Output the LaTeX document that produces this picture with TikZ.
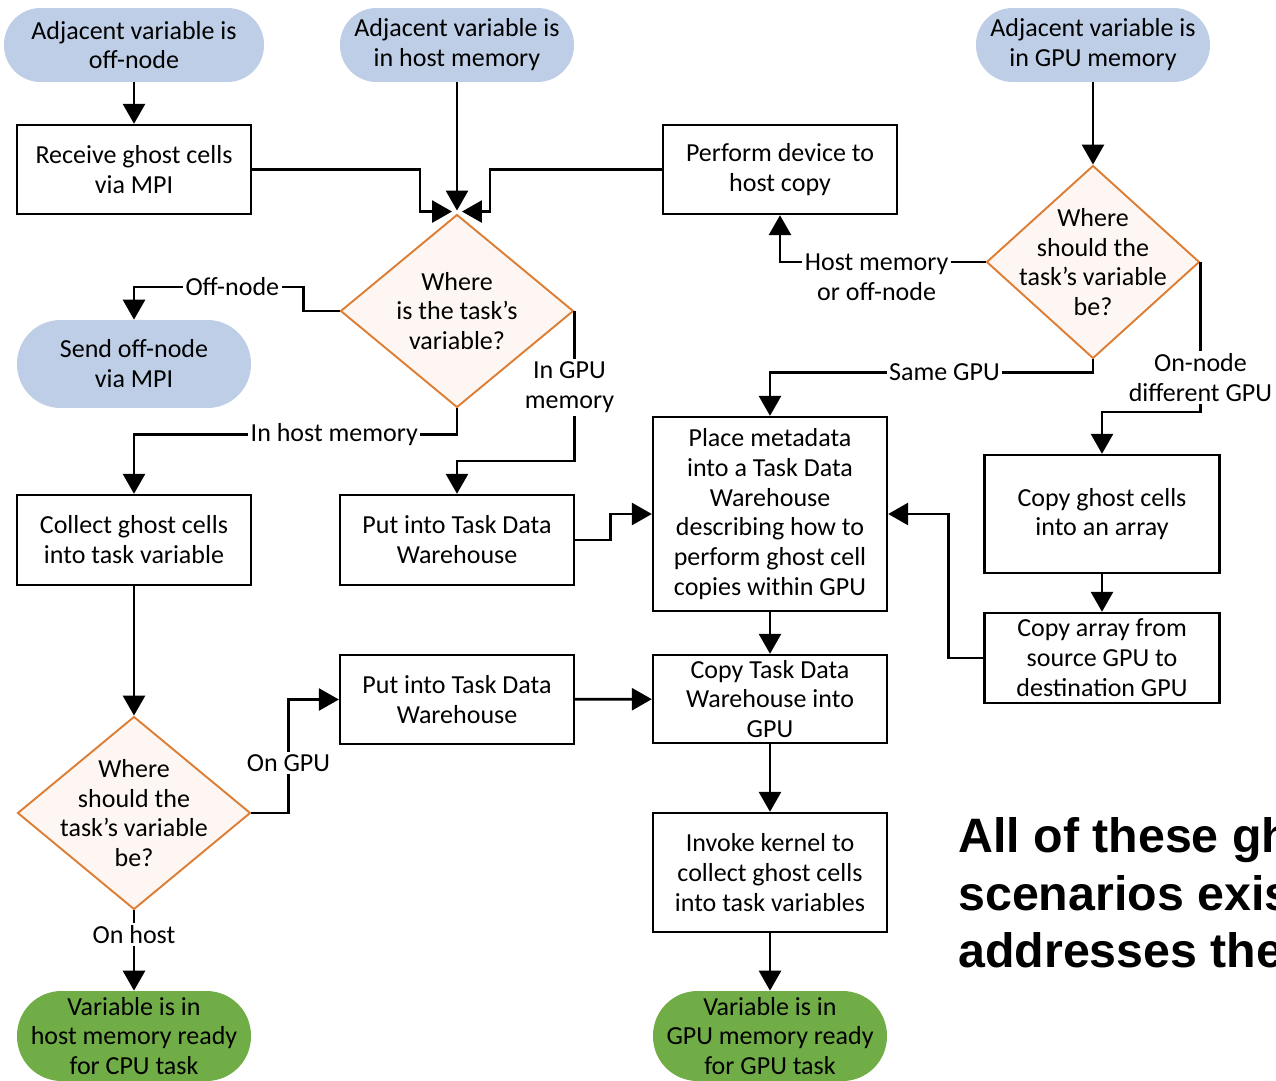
\documentclass[tikz,border=0pt]{standalone}
\usepackage{fontspec}
\setmainfont{Carlito}
\newfontfamily\notefont{Liberation Sans}
\usetikzlibrary{shapes.geometric,arrows.meta,calc}
\definecolor{termblue}{RGB}{189,206,230}
\definecolor{termgreen}{RGB}{112,173,71}
\definecolor{decorange}{RGB}{222,125,52}
\definecolor{decfill}{RGB}{253,246,242}

\begin{document}
\begin{tikzpicture}[x=0.02cm, y=-0.02cm, font=\fontsize{14.8}{17}\selectfont]
                \tikzstyle{terminal} = [rectangle, rounded corners=0.73cm, fill=termblue, minimum width=4.68cm, minimum height=1.48cm, inner sep=0pt, align=center]
                \tikzstyle{ready} = [rectangle, rounded corners=0.89cm, fill=termgreen, minimum width=4.68cm, minimum height=1.8cm, inner sep=0pt, align=center]
                \tikzstyle{process} = [rectangle, draw, line width=1.35pt, fill=white, minimum width=4.68cm, minimum height=1.78cm, inner sep=0pt, align=center]
                \tikzstyle{decision} = [diamond, draw=decorange, fill=decfill, line width=1.1pt, minimum width=4.66cm, minimum height=3.86cm, inner sep=0pt]
                \tikzstyle{lbl} = [fill=white, inner sep=1.5pt, align=center]
                \tikzstyle{arrow} = [line width=1.6pt, -{Triangle[length=0.4cm, width=0.44cm]}]

                \useasboundingbox (0,0) rectangle (1276,1081);

                % sources
                \node (offnode) [terminal, minimum width=5.2cm] at (134,45) {Adjacent variable is\\off-node};
                \node (hostmem) [terminal] at (457,45) {Adjacent variable is\\in host memory};
                \node (gpumem) [terminal] at (1093,45) {Adjacent variable is\\in GPU memory};

                \node (recv) [process] at (134,169.5) {Receive ghost cells\\via MPI};
                \node (dev2host) [process] at (780,169.5) {Perform device to\\host copy};
                \node (dec1) [decision, label={[align=center]center:Where\\is the task’s\\variable?}] at (457,311) {};
                \node (dec2) [decision, minimum width=4.26cm, label={[align=center]center:Where\\should the\\task’s variable\\be?}] at (1093,262) {};
                \node (sendoff) [terminal, rounded corners=0.87cm, minimum height=1.76cm] at (134,364) {Send off-node\\via MPI};

                \node (collect) [process, minimum height=1.8cm] at (134,540) {Collect ghost cells\\into task variable};
                \node (put1) [process, minimum height=1.8cm] at (457,540) {Put into Task Data\\Warehouse};
                \node (place) [process, minimum height=3.88cm] at (770,514) {Place metadata\\into a Task Data\\Warehouse\\describing how to\\perform ghost cell\\copies within GPU};
                \node (copyghost) [process, minimum width=4.7cm, minimum height=2.36cm] at (1102,514) {Copy ghost cells\\into an array};
                \node (copyarr) [process, minimum width=4.7cm, minimum height=1.8cm] at (1102,658) {Copy array from\\source GPU to\\destination GPU};

                \node (put2) [process] at (457,699.5) {Put into Task Data\\Warehouse};
                \node (copytdw) [process, minimum height=1.76cm] at (770,699) {Copy Task Data\\Warehouse into\\GPU};
                \node (dec3) [decision, label={[align=center]center:Where\\should the\\task’s variable\\be?}] at (134,813) {};
                \node (invoke) [process, minimum height=2.38cm] at (770,872.5) {Invoke kernel to\\collect ghost cells\\into task variables};

                % sinks
                \node (readycpu) [ready] at (134,1036) {Variable is in\\host memory ready\\for CPU task};
                \node (readygpu) [ready] at (770,1036) {Variable is in\\GPU memory ready\\for GPU task};

                \begin{scope}
                \clip (0,0) rectangle (1276,1081);
                \node (note) [anchor=north west, inner sep=0pt, align=left, font=\notefont\bfseries\fontsize{27.5}{32.9}\selectfont] at (958,817) {All of these gh\\scenarios exis\\addresses the};
                \end{scope}

                \draw [arrow] (offnode) -- (recv);
                \draw [arrow] (hostmem) -- ($(dec1.north)+(0,-3)$);
                \draw [arrow] (recv.east) -| ($(dec1.north)+(-37,-2)$) -- ($(dec1.north)+(-5,-2)$);
                \draw [arrow] (dev2host.west) -| ($(dec1.north)+(33,-2)$) -- ($(dec1.north)+(5,-2)$);
                \draw [arrow] (dec1.west) -- ++(-36,0) -- ++(0,-24) -| node[lbl, pos=0.21] {Off-node} (sendoff.north);
                \draw [arrow] (dec1.south) -- ++(0,26) -| node[lbl, pos=0.19] {In host memory} (collect.north);
                \draw [arrow] (dec1.east) -- node[lbl, pos=0.51, xshift=-0.1cm] {In GPU\\memory} ++(0,150) -| (put1.north);
                \draw [arrow] (put1.east) -- ++(35,0) |- (place.west);
                \draw [arrow] (gpumem) -- (dec2.north);
                \draw [arrow] (dec2.west) -| node[lbl, pos=0.265, yshift=-0.3cm] {Host memory\\or off-node} (dev2host.south);
                \draw [arrow] (dec2.south) -- ++(0,13) -| node[lbl, pos=0.23] {Same GPU} (place.north);
                \draw [arrow] (dec2.east) -- node[lbl, pos=0.77] {On-node\\different GPU} ++(0,150) -| (copyghost.north);
                \draw [arrow] (copyghost) -- (copyarr);
                \draw [arrow] (copyarr.west) -- ++(-35,0) |- (place.east);
                \draw [arrow] (place) -- (copytdw);
                \draw [arrow] (collect) -- (dec3.north);
                \draw [arrow] (dec3.east) -- ++(37,0) |- node[lbl, pos=0.22] {On GPU} (put2.west);
                \draw [arrow] (put2) -- (copytdw);
                \draw [arrow] (copytdw) -- (invoke);
                \draw [arrow] (invoke) -- (readygpu);
                \draw [arrow] (dec3.south) -- node[lbl, pos=0.3] {On host} (readycpu);
\end{tikzpicture}
\end{document}
